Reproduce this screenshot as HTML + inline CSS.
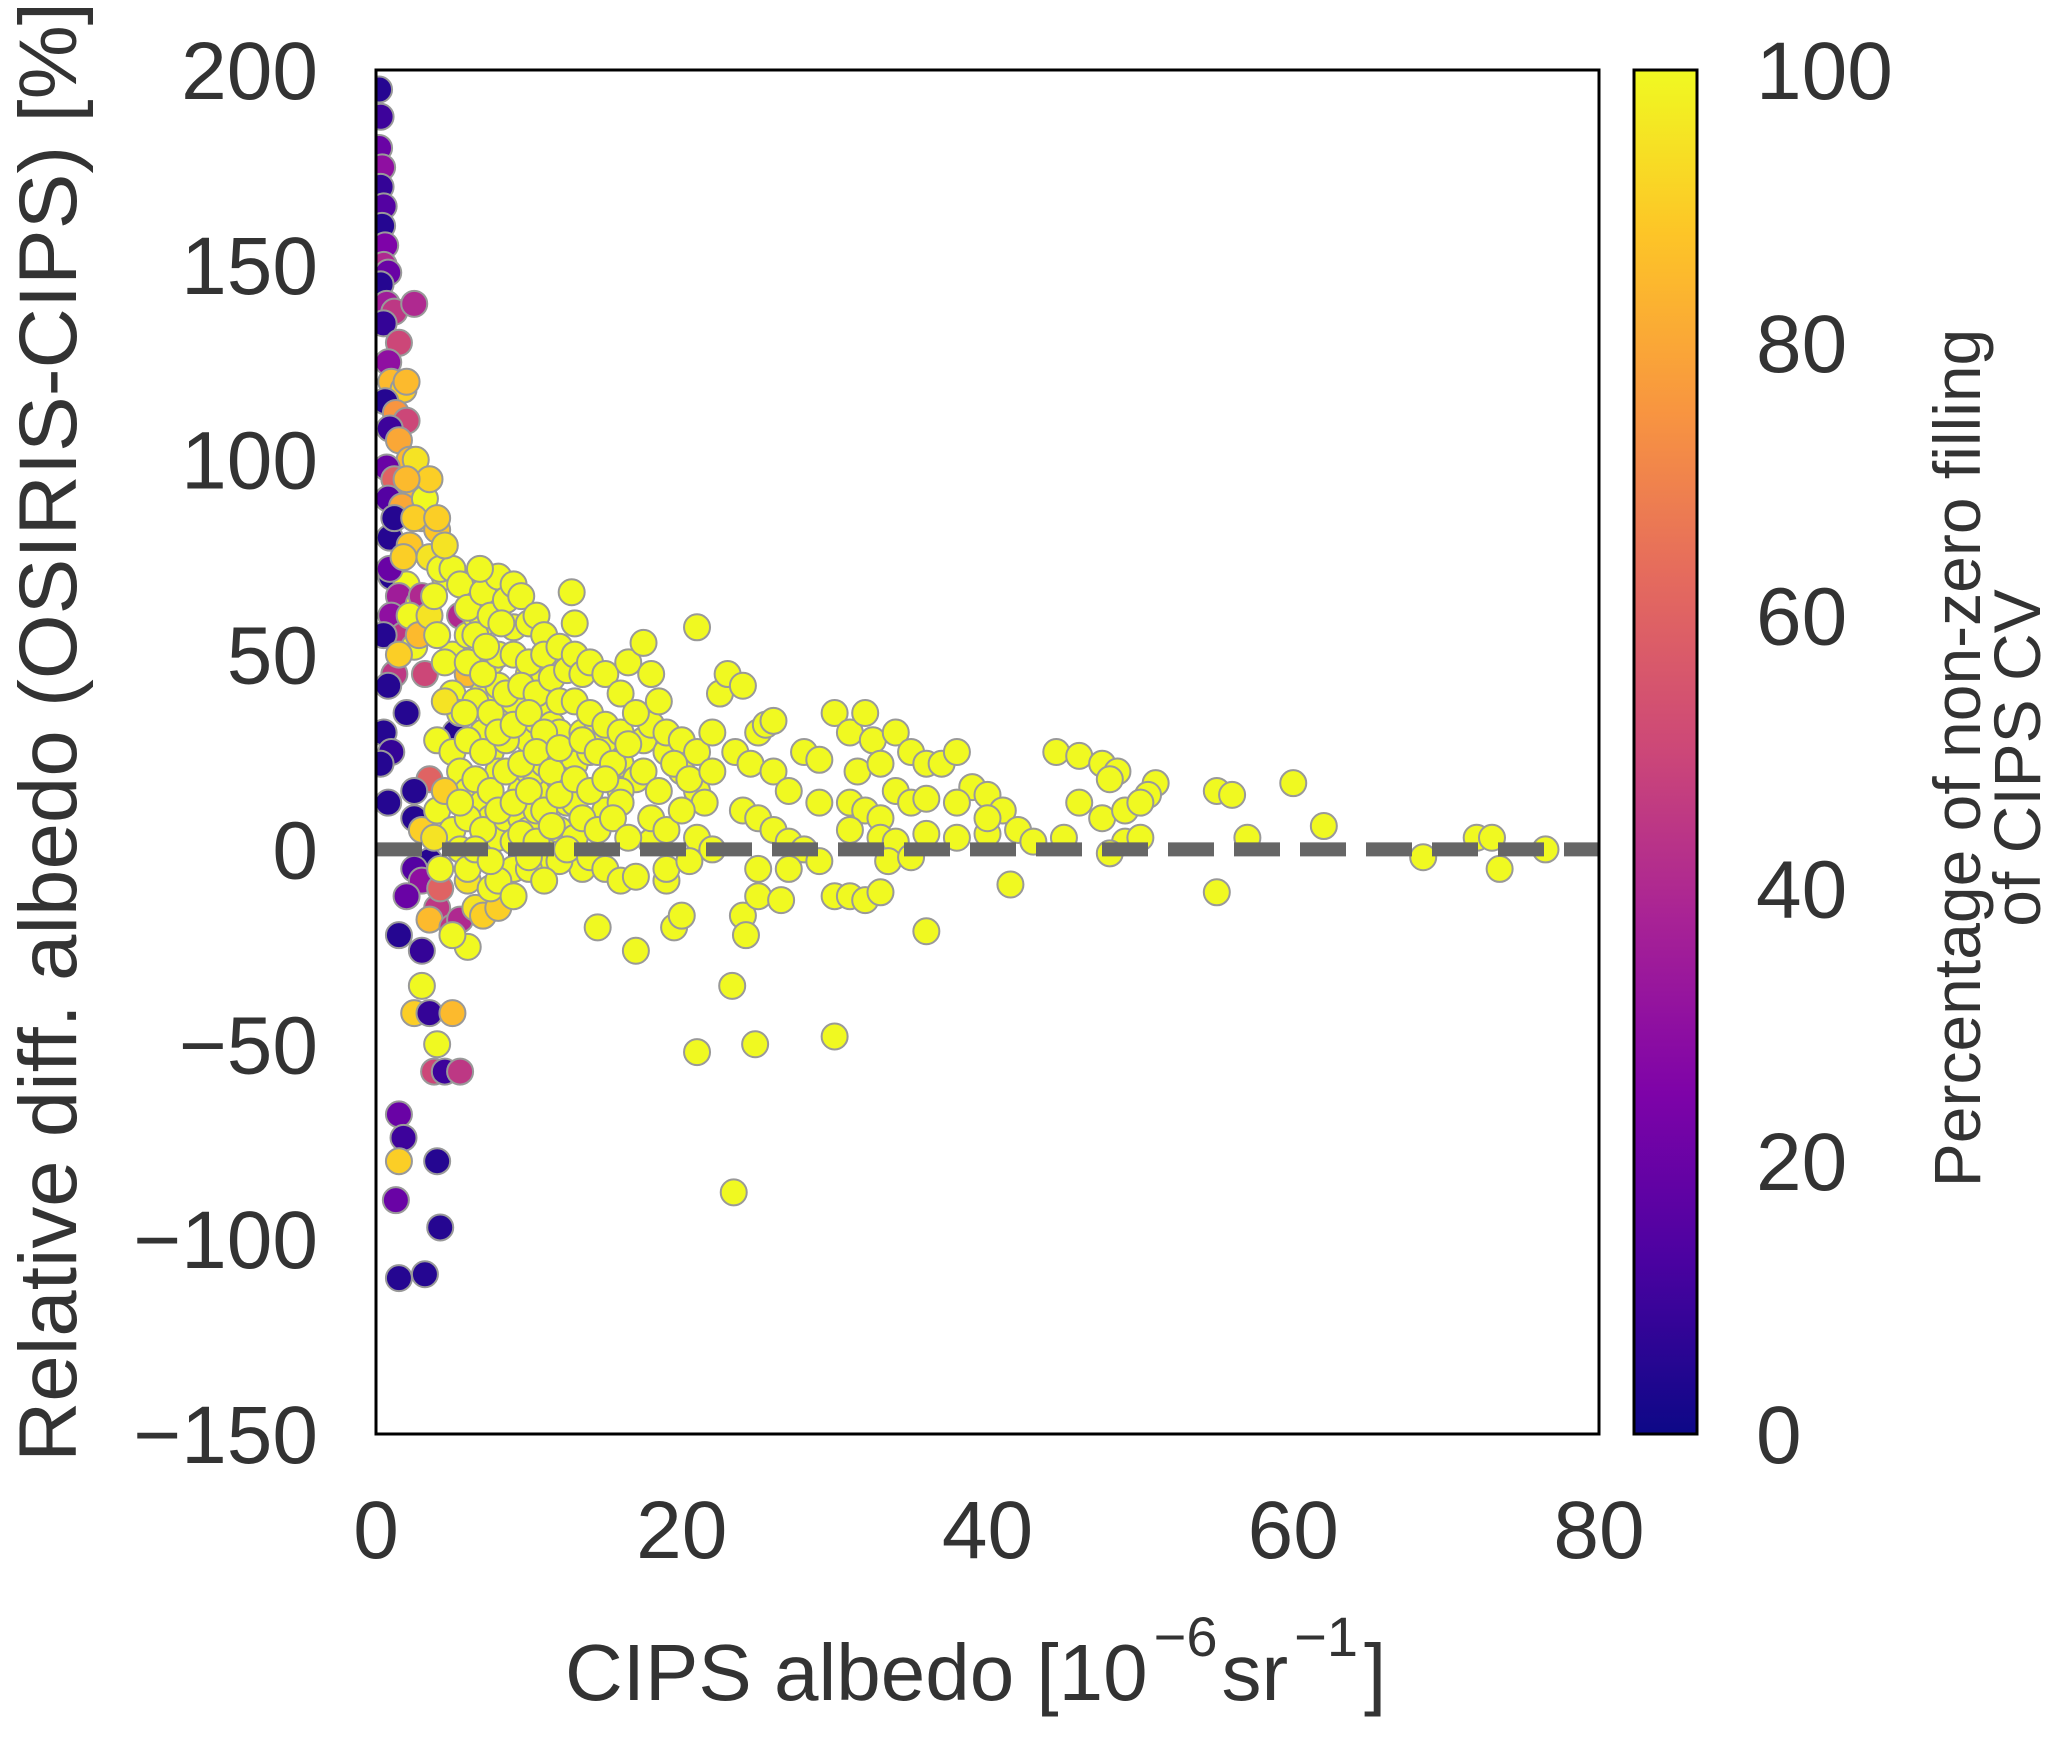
<!DOCTYPE html>
<html><head><meta charset="utf-8"><style>
html,body{margin:0;padding:0;background:#fff;}
svg text{font-family:"Liberation Sans",sans-serif;fill:#333;}
</style></head><body>
<svg id="chart" width="2067" height="1737" viewBox="0 0 2067 1737" xmlns="http://www.w3.org/2000/svg">
<defs>
<linearGradient id="plasma" x1="0" y1="1" x2="0" y2="0">
<stop offset="0" stop-color="#0d0887"/><stop offset="0.13" stop-color="#4c02a1"/><stop offset="0.25" stop-color="#7e03a8"/><stop offset="0.38" stop-color="#a92395"/><stop offset="0.5" stop-color="#cc4778"/><stop offset="0.63" stop-color="#e56b5d"/><stop offset="0.75" stop-color="#f89540"/><stop offset="0.88" stop-color="#fdc527"/><stop offset="1" stop-color="#f0f921"/>
</linearGradient>
<clipPath id="clip"><rect x="376" y="70" width="1223" height="1364"/></clipPath>
</defs>
<g id="points" clip-path="url(#clip)"></g>
<line id="zero" stroke="#666" stroke-width="14" stroke-dasharray="46 20"/>
<rect x="376" y="70" width="1223" height="1364" fill="none" stroke="#000" stroke-width="3"/>
<g id="yticks"></g>
<g id="xticks"></g>
<text transform="translate(76,732) rotate(-90)" text-anchor="middle" font-size="82" textLength="1460" lengthAdjust="spacingAndGlyphs">Relative diff. albedo (OSIRIS-CIPS) [%]</text>
<text x="565" y="1700" font-size="80">CIPS albedo [10<tspan dx="6" dy="-44" font-size="56">−6</tspan><tspan dx="4" dy="44">sr</tspan><tspan dx="6" dy="-44" font-size="56">−1</tspan><tspan dx="6" dy="44">]</tspan></text>
<rect x="1634" y="70" width="63" height="1364" fill="url(#plasma)" stroke="#000" stroke-width="3"/>
<g id="cticks"></g>
<text transform="translate(1980,758) rotate(-90)" text-anchor="middle" font-size="66">Percentage of non-zero filling</text>
<text transform="translate(2040,758) rotate(-90)" text-anchor="middle" font-size="66">of CIPS CV</text>
</svg>
<script>
const xTicks=[0,20,40,60,80];
const yTicks=[200,150,100,50,0,-50,-100,-150];
const cTicks=[0,20,40,60,80,100];
const xsA=[0.2,0.3,0.2,0.4,0.3,0.5,0.4,0.6,0.5,0.8,0.3,0.7,1.2,0.5,1.5,0.8,1.0,1.8,0.6,1.3,2.0,0.9,1.5,2.2,0.7,1.2,2.5,0.8,1.7,3.0,0.9,2.2,3.5,1.0,2.0,1.5,2.8,1.0,1.8,2.5,1.2,0.8,2.0,0.5,1.0,0.3,2.5,3.0,3.5,2.5,3.0,2.0,4.0,3.5,1.5,3.0,5.0,3.0,2.5,3.5,4.0,5.0,3.8,4.5,5.5,1.5,1.8,1.5,4.0,1.3,4.2,1.5,3.2,5.5,4.2,6,5.2,5.5,3.2,4.5,5.0,6,4.0,3.5,4.0,6.5,7,8,7.5,9,6.0,5.0,2.5,0.8,2.0,2.6,3.2,2.5,1.2,0.5,0.9,3.5,4.0,4.2,3.0,
5.5,6,6.5,7,7.5,8,8.5,6,7,8,6.5,7.5,8.5,6,7,8,6.5,7.5,8.5,6,7,8,6.5,7.5,5.5,5.8,7.2,8.2,6.8,
9,9.5,10,10.5,11,9,10,11,12,9.5,10.5,11.5,9,10,11,12,9.5,10.5,11.5,9,10,11,12,9.5,10.5,11.5,10,12,11,12.5,12,12.5,12.8,13,
13,13.5,14,15,16,13,14,15,16,13.5,14.5,15.5,16.5,13,14,15,16,13.5,14.5,15.5,16.5,14,15,16,14.5,17,16.5,17,
17.5,18,18.5,19,20,21,22,17.5,18.5,19.5,20.5,21.5,18,19,20,21,22,17,19.5,20,19,20.5,21,22.5,22,21,
23,24,25,25.5,26,23.5,24.5,26,27,28,29,30,24,25,26,27,28,29,30,24,24.2,25,23.3,24.8,23.4,30,25,27,29,26.5,
31,32,32.5,31.5,33,34,35,36,37,38,31,32,33,34,35,36,39,40,41,31,33,34,36,38,40,42,31,32,33,36,41.5,38,40,33.5,
44.5,46,47.5,48.5,48,46,47.5,49,51,50.5,50,45,49,50,48,55,56,57,55,60,62,68.5,72,73,73.5,76.5,35,43];
const ysA=[195,188,180,175,170,165,160,155,150,148,145,140,138,135,130,125,120,118,115,112,110,108,105,100,98,95,92,90,88,85,80,78,75,70,68,65,63,60,55,52,45,42,35,30,25,22,8,5,-3,-5,-8,-12,-15,-18,-22,-26,-20,-35,-42,-42,-50,-42,-57,-57,-57,-68,-74,-80,-80,-90,-97,-110,-109,-18,-10,-8,30,60,45,70,50,45,28,18,10,-15,-17,-15,-10,-5,-25,-22,15,12,120,100,90,140,85,55,72,95,82,72,65,
68,62,55,66,60,70,64,48,45,50,38,35,40,28,25,30,18,15,20,8,5,10,0,-3,12,35,52,58,72,
68,65,58,60,55,50,48,50,52,42,40,44,32,35,30,38,22,25,20,12,15,10,14,4,2,6,-2,-3,-8,0,26,46,66,58,
50,45,48,45,40,38,35,32,30,28,25,22,27,18,15,18,12,8,5,8,3,-2,-5,-8,-20,-7,48,35,
53,45,38,30,28,25,30,20,15,22,18,12,8,5,10,3,0,-26,-20,-17,-5,-3,57,40,20,-52,
45,42,30,32,33,25,22,20,15,25,23,35,10,8,5,2,0,-3,-12,-17,-22,-12,-35,-50,-88,-48,-5,-5,12,-13,
30,35,28,20,22,30,25,22,22,25,12,10,8,15,12,13,16,14,10,5,3,2,4,3,4,5,-12,-13,-11,-21,-9,12,8,-3,
25,24,22,20,18,12,8,10,17,14,12,3,2,3,-1,15,14,3,-11,17,6,-2,3,3,-5,0,-2,2];
const csA=[5,10,20,30,8,15,5,25,40,20,5,35,45,8,50,30,85,90,5,75,50,10,80,85,20,60,85,15,80,90,5,88,95,5,100,35,100,30,45,100,45,5,5,5,8,5,5,90,5,15,30,20,45,85,5,8,45,100,90,8,100,85,50,10,45,20,10,90,5,20,5,5,5,40,60,95,5,40,50,100,100,85,100,60,100,95,90,90,100,100,100,100,5,5,85,95,100,40,5,5,20,90,88,100,40,
100,100,100,100,100,100,100,100,100,100,100,100,100,100,100,100,100,100,100,100,100,100,100,100,100,100,100,100,100,
100,100,100,100,100,100,100,100,100,100,100,100,100,100,100,100,100,100,100,100,100,100,100,100,100,100,100,100,100,100,100,100,100,100,
100,100,100,100,100,100,100,100,100,100,100,100,100,100,100,100,100,100,100,100,100,100,100,100,100,100,100,100,
100,100,100,100,100,100,100,100,100,100,100,100,100,100,100,100,100,100,100,100,100,100,100,100,100,100,
100,100,100,100,100,100,100,100,100,100,100,100,100,100,100,100,100,100,100,100,100,100,100,100,100,100,100,100,100,100,
100,100,100,100,100,100,100,100,100,100,100,100,100,100,100,100,100,100,100,100,100,100,100,100,100,100,100,100,100,100,100,100,100,100,
100,100,100,100,100,100,100,100,100,100,100,100,100,100,100,100,100,100,100,100,100,100,100,100,100,100,100,100];
const xsB=[2,2.5,1.8,2.2,2.8,1.5,3.5,4,4.5,5,5.5,4.5,5,5.5,6,4.5,5,5.5,6,3.8,4.2,7,7.5,8,8.5,9,9.5,10,10.5,11,11.5,12,12.5,13,13.5,14,14.5,7,7.5,8,8.5,9,9.5,10,10.5,11,11.5,12,12.5,13,7,7.5,8,8.5,9,9.5,10,10.5,11,11.5,12,13,13.5,6,6.5,7,8,9,10,11,6,5,4.5,4,3.8,15,16,17,17.5,18,19,20,21,16,15,18,19,8,9,10];
const ysB=[95,85,75,60,55,50,60,55,48,40,35,38,25,20,15,15,5,0,-5,3,-5,40,48,42,35,38,30,28,33,37,32,30,25,22,30,25,32,30,25,20,28,20,15,20,18,22,15,18,12,12,12,8,3,8,2,8,5,10,2,-3,5,3,-5,55,60,58,62,57,45,45,68,72,78,85,65,28,22,18,28,32,25,20,15,15,10,2,-8,-8,-12,-5];
const csB=[85,90,90,100,85,90,95,100,100,100,100,95,100,100,100,90,100,100,100,95,100,100,100,100,100,100,100,100,100,100,100,100,100,100,100,100,100,100,100,100,100,100,100,100,100,100,100,100,100,100,100,100,100,100,100,100,100,100,100,100,100,100,100,100,100,100,100,100,100,100,100,100,95,90,100,100,100,100,100,100,100,100,100,100,100,100,100,100,100,100];
const xs=xsA.slice(0,105).concat(xsB,xsA.slice(105));
const ys=ysA.slice(0,105).concat(ysB,ysA.slice(105));
const cs=csA.slice(0,105).concat(csB,csA.slice(105));

const L=376,R=1599,T=70,B=1434;
const xS=v=>L+(v-0)/(80-0)*(R-L);
const yS=v=>B-(v-(-150))/(200-(-150))*(B-T);
const cY=v=>B-v/100*(B-T);
const stops=[[0,[13,8,135]],[0.13,[76,2,161]],[0.25,[126,3,168]],[0.38,[169,35,149]],[0.5,[204,71,120]],[0.63,[229,107,93]],[0.75,[248,149,64]],[0.88,[253,197,39]],[1,[240,249,33]]];
function cmap(v){const t=Math.max(0,Math.min(1,v/100));for(let i=1;i<stops.length;i++){if(t<=stops[i][0]){const a=stops[i-1],b=stops[i];const f=(t-a[0])/(b[0]-a[0]);const c=a[1].map((x,k)=>Math.round(x+(b[1][k]-x)*f));return 'rgb('+c.join(',')+')';}}return 'rgb(240,249,33)';}
const NS='http://www.w3.org/2000/svg';
const pg=document.getElementById('points');
for(let i=0;i<xs.length;i++){
const c=document.createElementNS(NS,'circle');
c.setAttribute('cx',xS(xs[i]));c.setAttribute('cy',yS(ys[i]));c.setAttribute('r',13);
c.setAttribute('fill',cmap(cs[i]));c.setAttribute('stroke','#999');c.setAttribute('stroke-width',2);


pg.appendChild(c);}
const z=document.getElementById('zero');
z.setAttribute('x1',L);z.setAttribute('x2',R);z.setAttribute('y1',yS(0));z.setAttribute('y2',yS(0));
const yg=document.getElementById('yticks');
yTicks.forEach(v=>{const t=document.createElementNS(NS,'text');t.setAttribute('x',318);t.setAttribute('y',yS(v)+29);t.setAttribute('text-anchor','end');t.setAttribute('font-size',82);t.textContent=v<0?'−'+(-v):String(v);


yg.appendChild(t);});
const xg=document.getElementById('xticks');
xTicks.forEach(v=>{const t=document.createElementNS(NS,'text');t.setAttribute('x',xS(v));t.setAttribute('y',1558);t.setAttribute('text-anchor','middle');t.setAttribute('font-size',82);t.textContent=String(v);


xg.appendChild(t);});
const cg=document.getElementById('cticks');
cTicks.forEach(v=>{const t=document.createElementNS(NS,'text');t.setAttribute('x',1756);t.setAttribute('y',cY(v)+29);t.setAttribute('font-size',82);t.textContent=String(v);


cg.appendChild(t);});
</script>
</body></html>
